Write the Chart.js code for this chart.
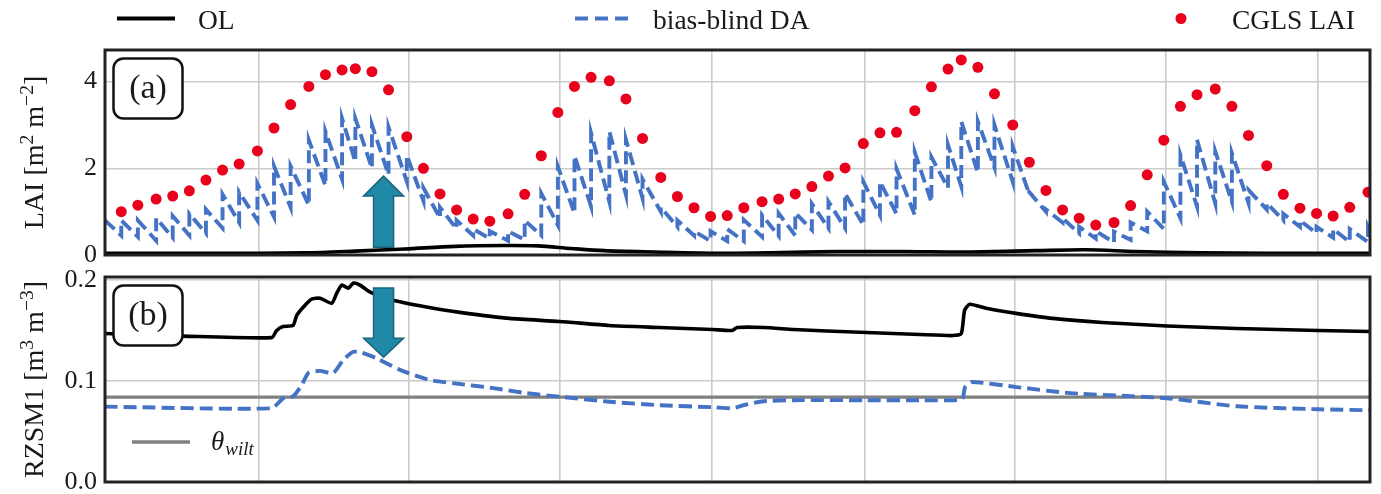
<!DOCTYPE html>
<html><head><meta charset="utf-8">
<script src="https://cdn.jsdelivr.net/npm/chart.js@4.4.1/dist/chart.umd.min.js"></script>
<style>
html,body{margin:0;padding:0;background:#fff;}
#wrap{position:relative;width:1381px;height:494px;overflow:hidden;background:#fff;}
#cA{position:absolute;left:0;top:0;}
#cB{position:absolute;left:0;top:258px;}
</style></head><body>
<div id="wrap">
<canvas id="cA" width="1381" height="275"></canvas>
<canvas id="cB" width="1381" height="236"></canvas>
</div>
<script>
const FONT = "'Liberation Serif', 'Times New Roman', Times, serif";
const ORIGIN = Date.UTC(2016, 9, 1);            // day 0 = 2016-10-01
const toDay = s => (Date.parse(s + 'T00:00:00Z') - ORIGIN) / 86400000;

// ---------- axes ----------
const xRange = [-0.8, 761.2];                    // days since 2016-10-01
const gridDates = ['2017-01-01','2017-04-01','2017-07-01','2017-10-01','2018-01-01','2018-04-01','2018-07-01','2018-10-01'];
const laiTicks = [0, 2, 4];
const laiRange = [0, 4.73];
const rzTicks = [0.0, 0.1, 0.2];
const rzRange = [0, 0.203];

// ---------- (a) LAI ----------
const cglsDates = ['2016-10-10','2016-10-20','2016-10-31','2016-11-10','2016-11-20','2016-11-30','2016-12-10','2016-12-20','2016-12-31',
 '2017-01-10','2017-01-20','2017-01-31','2017-02-10','2017-02-20','2017-02-28','2017-03-10','2017-03-20','2017-03-31','2017-04-10','2017-04-20','2017-04-30','2017-05-10','2017-05-20','2017-05-31','2017-06-10','2017-06-20','2017-06-30','2017-07-10','2017-07-20','2017-07-31','2017-08-10','2017-08-20','2017-08-31','2017-09-10','2017-09-20','2017-09-30','2017-10-10','2017-10-20','2017-10-31','2017-11-10','2017-11-20','2017-11-30','2017-12-10','2017-12-20','2017-12-31',
 '2018-01-10','2018-01-20','2018-01-31','2018-02-10','2018-02-20','2018-02-28','2018-03-10','2018-03-20','2018-03-31','2018-04-10','2018-04-20','2018-04-30','2018-05-10','2018-05-20','2018-05-31','2018-06-10','2018-06-20','2018-06-30','2018-07-10','2018-07-20','2018-07-31','2018-08-10','2018-08-20','2018-08-31','2018-09-10','2018-09-20','2018-09-30','2018-10-10','2018-10-20','2018-10-31'];
const cglsLAI = [1.00,1.15,1.29,1.36,1.48,1.73,1.96,2.10,2.40,
 2.93,3.47,3.89,4.16,4.27,4.30,4.23,3.81,2.73,2.00,1.41,1.04,0.83,0.78,0.95,1.40,2.29,3.29,3.89,4.10,4.02,3.60,2.69,1.79,1.35,1.09,0.89,0.91,1.09,1.23,1.29,1.41,1.58,1.82,2.01,2.57,
 2.82,2.83,3.33,3.88,4.29,4.50,4.33,3.72,3.00,2.14,1.49,1.04,0.85,0.69,0.75,1.14,1.85,2.65,3.43,3.70,3.83,3.43,2.76,2.06,1.40,1.08,0.96,0.90,1.10,1.45];
// bias-blind DA LAI: value just before (pre) and just after (post) each update
const daPre = [0.45,0.42,0.33,0.40,0.45,0.50,0.62,0.75,0.80,
 0.88,1.10,1.15,1.60,1.75,2.15,2.00,1.85,1.70,1.25,0.85,0.60,0.45,0.38,0.33,0.35,0.45,0.69,0.96,1.12,1.23,1.39,1.31,1.00,0.65,0.45,0.32,0.32,0.32,0.42,0.44,0.45,0.58,0.62,0.62,0.69,
 0.92,0.95,0.92,1.22,1.55,1.58,1.90,2.02,1.69,1.40,1.00,0.75,0.50,0.38,0.29,0.35,0.55,0.60,0.85,1.12,1.19,1.23,1.20,1.05,0.80,0.65,0.50,0.40,0.30,0.30];
const daPost = [0.80,0.80,0.85,0.90,0.95,1.05,1.40,1.45,1.65,
 2.05,2.05,2.65,2.85,3.15,3.15,3.00,2.95,2.30,1.55,1.10,0.80,0.60,0.55,0.55,0.80,1.42,2.04,2.29,2.81,2.85,2.66,1.75,1.10,0.80,0.55,0.55,0.60,0.81,0.92,0.96,0.97,1.18,1.23,1.42,1.69,
 1.69,1.99,2.37,2.26,2.54,3.08,3.08,3.00,2.50,1.45,1.05,0.85,0.65,0.55,0.54,0.75,1.00,1.69,2.31,2.66,2.39,2.35,1.50,1.20,0.95,0.80,0.65,0.60,0.60,0.65];
const daStart = [-0.8, 0.80];
const daEnd = [761.2, 0.55];
// open-loop LAI
const olLaiDay = [-1, 60, 120, 150, 180, 210, 240, 260, 280, 300, 330, 370, 400, 440, 480, 520, 560, 590, 620, 660, 700, 762];
const olLai    = [0.04,0.04,0.05,0.09,0.14,0.20,0.22,0.21,0.15,0.10,0.07,0.04,0.05,0.08,0.08,0.07,0.10,0.12,0.08,0.05,0.04,0.04];

// ---------- (b) RZSM1 ----------
const rzOlDay = [-1,46,99.6,102.6,106.4,112.5,114.7,119.7,123.7,128.7,135.8,138.8,141.8,145.8,148.8,152.8,158.9,172.9,197,213,243,273,303,333,365,377,380,396,414,434,458,490,510,515,517,520,530,548,570,600,639,681,730,762];
const rzOl    = [0.147,0.1445,0.143,0.150,0.154,0.155,0.165,0.175,0.181,0.182,0.177,0.187,0.195,0.192,0.197,0.195,0.188,0.180,0.172,0.168,0.162,0.159,0.155,0.153,0.151,0.150,0.153,0.153,0.151,0.1495,0.148,0.146,0.145,0.147,0.170,0.176,0.172,0.167,0.162,0.158,0.1545,0.152,0.150,0.149];
const rzDaDay = [-1,99.6,106.6,112.7,117.7,121.7,128.7,136.7,142.8,148.8,153.9,162.9,176.9,195,213,233,253,273,303,333.5,365.7,377.7,383.7,395.8,413.9,457.7,490,515.3,517.3,521.3,548.4,580.5,638.8,681,730,762];
const rzDa    = [0.0746,0.073,0.083,0.085,0.096,0.108,0.110,0.108,0.121,0.129,0.128,0.1225,0.111,0.101,0.097,0.093,0.088,0.0845,0.0795,0.076,0.074,0.073,0.076,0.080,0.081,0.081,0.081,0.082,0.094,0.099,0.094,0.088,0.083,0.075,0.072,0.071];
const wiltingPoint = 0.084;

// ---------- annotations (data units) ----------
const arrowA = {day: 167, tail: 0.18, base: 1.36, tip: 1.82};
const arrowB = {day: 167, tail: 0.192, base: 0.1423, tip: 0.1235};

// ---------- colours ----------
const C_OL = '#000000', C_DA = '#4472c4', C_OBS = '#e8001c', C_WILT = '#808080';
const C_ARROW = '#2189a8', C_ARROW_EDGE = '#17637a';

// ---------- build series ----------
const pts = (xs, ys) => xs.map((x, i) => ({x, y: ys[i]}));
const cglsPts = cglsDates.map((d, i) => ({x: toDay(d), y: cglsLAI[i]}));
const daPts = [{x: daStart[0], y: daStart[1]}];
cglsDates.forEach((d, i) => { const t = toDay(d); daPts.push({x: t, y: daPre[i]}, {x: t, y: daPost[i]}); });
daPts.push({x: daEnd[0], y: daEnd[1]});
const wiltPts = [{x: xRange[0] - 1, y: wiltingPoint}, {x: xRange[1] + 1, y: wiltingPoint}];

// ---------- helpers ----------
function drawRich(ctx, parts, x, y, size, center) {
  const ws = parts.map(([t, s]) => { ctx.font = (s ? size * 0.7 : size) + 'px ' + FONT; return ctx.measureText(t).width; });
  let cx = center ? x - ws.reduce((a, b) => a + b, 0) / 2 : x;
  parts.forEach(([t, s], i) => {
    ctx.font = (s ? size * 0.7 : size) + 'px ' + FONT;
    ctx.fillText(t, cx, s ? y - size * 0.36 : y);
    cx += ws[i];
  });
}
function drawArrow(chart, ar) {
  const {ctx, scales} = chart;
  const x = scales.x.getPixelForValue(ar.day);
  const y0 = scales.y.getPixelForValue(ar.tail), yb = scales.y.getPixelForValue(ar.base), y1 = scales.y.getPixelForValue(ar.tip);
  const sw = 10, hw = 20;
  ctx.save();
  ctx.beginPath();
  ctx.moveTo(x - sw, y0); ctx.lineTo(x - sw, yb); ctx.lineTo(x - hw, yb); ctx.lineTo(x, y1);
  ctx.lineTo(x + hw, yb); ctx.lineTo(x + sw, yb); ctx.lineTo(x + sw, y0); ctx.closePath();
  ctx.fillStyle = C_ARROW; ctx.fill();
  ctx.lineWidth = 1.5; ctx.strokeStyle = C_ARROW_EDGE; ctx.lineJoin = 'miter'; ctx.stroke();
  ctx.restore();
}
function drawPanelBox(chart, txt) {
  const {ctx, chartArea: a} = chart;
  ctx.save();
  ctx.beginPath(); ctx.roundRect(a.left + 8.5, a.top + 8.5, 69, 60, 10);
  ctx.fillStyle = '#fff'; ctx.fill(); ctx.lineWidth = 2.5; ctx.strokeStyle = '#111'; ctx.stroke();
  ctx.fillStyle = '#1a1a1a'; ctx.font = '34px ' + FONT; ctx.textAlign = 'center'; ctx.textBaseline = 'middle';
  ctx.fillText(txt, a.left + 43, a.top + 39);
  ctx.restore();
}
function drawSpines(chart) {
  const {ctx, chartArea: a} = chart;
  ctx.save(); ctx.lineWidth = 3; ctx.strokeStyle = '#222';
  ctx.strokeRect(a.left, a.top, a.right - a.left, a.bottom - a.top); ctx.restore();
}
function drawYTitle(chart, parts) {
  const {ctx, chartArea: a} = chart;
  ctx.save(); ctx.translate(43, (a.top + a.bottom) / 2); ctx.rotate(-Math.PI / 2);
  ctx.fillStyle = '#1a1a1a'; ctx.textBaseline = 'alphabetic';
  drawRich(ctx, parts, 0, 0, 28, true); ctx.restore();
}

function xScale() {
  return {
    type: 'linear', min: xRange[0], max: xRange[1],
    afterBuildTicks: s => { s.ticks = gridDates.map(d => ({value: toDay(d)})); },
    afterFit: s => { s.height = 0; },
    ticks: {display: false},
    grid: {color: '#cccccc', lineWidth: 1.6, drawTicks: false},
    border: {display: false}
  };
}
function yScale(range, ticks, fmt) {
  return {
    min: range[0], max: range[1],
    afterBuildTicks: s => { s.ticks = ticks.map(v => ({value: v})); },
    afterFit: s => { s.width = 105; s.paddingTop = 0; s.paddingBottom = 0; },
    ticks: {padding: 8, color: '#1a1a1a', font: {family: FONT, size: 26, lineHeight: 0.1}, callback: fmt},
    grid: {color: '#cccccc', lineWidth: 1.6, drawTicks: false},
    border: {display: false}
  };
}
const common = {responsive: false, animation: false, devicePixelRatio: 1,
  plugins: {legend: {display: false}, tooltip: {enabled: false}}};

// ---------- chart (a) ----------
const plugA = {
  id: 'plugA',
  afterDatasetsDraw(chart) {
    drawSpines(chart);
    drawArrow(chart, arrowA);
    drawPanelBox(chart, '(a)');
    drawYTitle(chart, [['LAI [m', false], ['2', true], [' m', false], ['\u22122', true], [']', false]]);
    // top legend
    const ctx = chart.ctx;
    ctx.save();
    ctx.lineWidth = 3.8; ctx.strokeStyle = C_OL; ctx.lineCap = 'butt';
    ctx.beginPath(); ctx.moveTo(117, 18.5); ctx.lineTo(175, 18.5); ctx.stroke();
    ctx.strokeStyle = C_DA; ctx.setLineDash([13, 7]);
    ctx.beginPath(); ctx.moveTo(575, 18.5); ctx.lineTo(631, 18.5); ctx.stroke();
    ctx.setLineDash([]);
    ctx.fillStyle = C_OBS; ctx.beginPath(); ctx.arc(1181, 18.5, 5.5, 0, Math.PI * 2); ctx.fill();
    ctx.fillStyle = '#1a1a1a'; ctx.font = '27.5px ' + FONT; ctx.textBaseline = 'alphabetic';
    ctx.fillText('OL', 198, 29); ctx.fillText('bias-blind DA', 653, 29); ctx.fillText('CGLS LAI', 1232, 29);
    ctx.restore();
  }
};
new Chart(document.getElementById('cA'), {
  type: 'line',
  data: {datasets: [
    {label: 'CGLS LAI', data: cglsPts, showLine: false, pointRadius: 5.5, pointBackgroundColor: C_OBS, pointBorderWidth: 0, order: 0},
    {label: 'bias-blind DA', data: daPts, borderColor: C_DA, borderWidth: 3.9, borderDash: [13, 6], pointRadius: 0, tension: 0, order: 1},
    {label: 'OL', data: pts(olLaiDay, olLai), borderColor: C_OL, borderWidth: 3.6, pointRadius: 0, tension: 0.3, order: 2}
  ]},
  options: Object.assign({}, common, {
    layout: {padding: {top: 50, bottom: 20, left: 0, right: 11}},
    scales: {x: xScale(), y: yScale(laiRange, laiTicks, v => String(v))}
  }),
  plugins: [plugA]
});

// ---------- chart (b) ----------
const plugB = {
  id: 'plugB',
  afterDatasetsDraw(chart) {
    drawSpines(chart);
    drawArrow(chart, arrowB);
    drawPanelBox(chart, '(b)');
    drawYTitle(chart, [['RZSM1 [m', false], ['3', true], [' m', false], ['\u22123', true], [']', false]]);
    const {ctx, chartArea: a} = chart;
    ctx.save();
    ctx.strokeStyle = C_WILT; ctx.lineWidth = 3.3;
    ctx.beginPath(); ctx.moveTo(a.left + 27, a.top + 165); ctx.lineTo(a.left + 85, a.top + 165); ctx.stroke();
    ctx.fillStyle = '#1a1a1a'; ctx.textBaseline = 'alphabetic';
    ctx.font = 'italic 27px ' + FONT; ctx.fillText('\u03b8', a.left + 106, a.top + 173);
    const w = ctx.measureText('\u03b8').width;
    ctx.font = 'italic 19px ' + FONT; ctx.fillText('wilt', a.left + 106 + w + 1, a.top + 178);
    ctx.restore();
  }
};
new Chart(document.getElementById('cB'), {
  type: 'line',
  data: {datasets: [
    {label: 'bias-blind DA', data: pts(rzDaDay, rzDa), borderColor: C_DA, borderWidth: 3.9, borderDash: [13, 6], pointRadius: 0, tension: 0.2, order: 0},
    {label: 'OL', data: pts(rzOlDay, rzOl), borderColor: C_OL, borderWidth: 3.6, pointRadius: 0, tension: 0.2, order: 1},
    {label: '\u03b8wilt', data: wiltPts, borderColor: C_WILT, borderWidth: 3.3, pointRadius: 0, order: 2}
  ]},
  options: Object.assign({}, common, {
    layout: {padding: {top: 19, bottom: 12, left: 0, right: 11}},
    scales: {x: xScale(), y: yScale(rzRange, rzTicks, v => v.toFixed(1))}
  }),
  plugins: [plugB]
});
</script>
</body></html>
